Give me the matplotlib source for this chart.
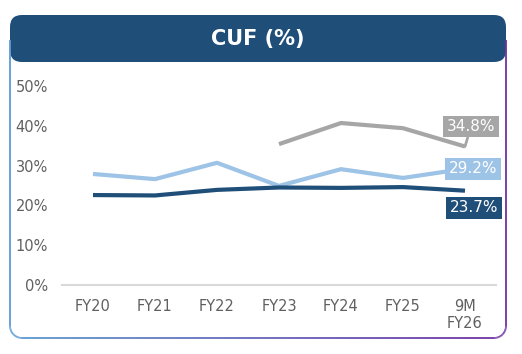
import numpy as np
import matplotlib
matplotlib.use("Agg")
import matplotlib.pyplot as plt
from matplotlib.patches import FancyBboxPatch
from matplotlib.collections import LineCollection
from matplotlib.colors import to_rgb

# ── data ──────────────────────────────────────────────
categories = ["FY20", "FY21", "FY22", "FY23", "FY24", "FY25", "9M\nFY26"]
cuf_dark = [22.6, 22.5, 23.9, 24.5, 24.4, 24.6, 23.7]
cuf_light = [27.9, 26.6, 30.7, 24.9, 29.1, 26.9, 29.2]
cuf_gray_cats = ["FY23", "FY24", "FY25", "9M\nFY26"]
cuf_gray = [35.4, 40.7, 39.4, 34.8]
y_ticks = [0, 10, 20, 30, 40, 50]

DARK = "#1F4E79"
LIGHT = "#9DC3E6"
GRAY = "#A6A6A6"
TXT = "#606060"
FONT = "DejaVu Sans"

W, H = 522, 354
fig = plt.figure(figsize=(W / 100, H / 100), dpi=100)
fig.patch.set_facecolor("white")

# ── frame: header band + gradient border (pixel coords) ──
bg = fig.add_axes([0, 0, 1, 1], zorder=0)
bg.set_xlim(0, W)
bg.set_ylim(H, 0)
bg.axis("off")

x0, x1, ytop, ybot, r = 10, 506, 40, 338, 12
pts = [(x0, ytop), (x0, ybot - r)]
for a in np.linspace(np.pi, np.pi / 2, 12):
    pts.append((x0 + r + r * np.cos(a), ybot - r + r * np.sin(a)))
for a in np.linspace(np.pi / 2, 0, 12):
    pts.append((x1 - r + r * np.cos(a), ybot - r + r * np.sin(a)))
pts.append((x1, ytop))
# densify so the colour gradient is smooth
dense = []
for (ax_, ay_), (bx_, by_) in zip(pts[:-1], pts[1:]):
    n = max(2, int(np.hypot(bx_ - ax_, by_ - ay_) / 3))
    for t in np.linspace(0, 1, n, endpoint=False):
        dense.append((ax_ + (bx_ - ax_) * t, ay_ + (by_ - ay_) * t))
dense.append(pts[-1])
dense = np.array(dense)
segs = np.stack([dense[:-1], dense[1:]], axis=1)
c_left, c_right = np.array(to_rgb("#5B9BD5")), np.array(to_rgb("#7030A0"))
tx = ((segs[:, 0, 0] + segs[:, 1, 0]) / 2 - x0) / (x1 - x0)
cols = [c_left + (c_right - c_left) * t for t in tx]
bg.add_collection(LineCollection(segs, colors=cols, linewidths=1.3))

header = FancyBboxPatch((10 + 12, 15 + 12), 496 - 24, 47 - 24,
                        boxstyle="round,pad=12", fc=DARK, ec="none")
bg.add_patch(header)
bg.text(258, 39, "CUF (%)", color="white", fontsize=15, fontweight="bold",
        ha="center", va="center", family=FONT)

# ── chart ─────────────────────────────────────────────
ax = fig.add_axes([62 / W, (H - 285) / H, (496 - 62) / W, (285 - 86) / H], zorder=1)
ax.patch.set_alpha(0)
x = np.arange(len(categories))
xg = [categories.index(c) for c in cuf_gray_cats]

ax.plot(x, cuf_light, color=LIGHT, lw=3, solid_capstyle="butt", zorder=3)
ax.plot(xg, cuf_gray, color=GRAY, lw=3, solid_capstyle="butt", zorder=3)
ax.plot(x, cuf_dark, color=DARK, lw=3, solid_capstyle="butt", zorder=4)

ax.set_xlim(-0.5, len(categories) - 0.5)
ax.set_ylim(0, 50)
ax.set_yticks(y_ticks)
ax.set_yticklabels([f"{v}%" for v in y_ticks])
ax.set_xticks(x)
ax.set_xticklabels(categories, linespacing=1.2)
ax.tick_params(length=0, labelsize=10.5, labelcolor=TXT)
ax.tick_params(axis="y", pad=10)
ax.tick_params(axis="x", pad=10)
for lab in ax.get_xticklabels() + ax.get_yticklabels():
    lab.set_family(FONT)
for s in ["top", "right", "left"]:
    ax.spines[s].set_visible(False)
ax.spines["bottom"].set_color("#D9D9D9")
ax.spines["bottom"].set_linewidth(1.5)

# end labels
def end_label(xv, yv, color, dx, dy, pointer=False):
    kw = {}
    if pointer:
        kw["arrowprops"] = dict(arrowstyle="-", color=color, lw=2, shrinkA=0, shrinkB=0)
    ax.annotate(f"{yv:.1f}%", (xv, yv), xytext=(dx, dy), textcoords="offset pixels",
                ha="center", va="center", color="white", fontsize=11, family=FONT,
                bbox=dict(boxstyle="square,pad=0.22", fc=color, ec="none"),
                zorder=5, annotation_clip=False, **kw)

last = len(categories) - 1
end_label(last, cuf_gray[-1], GRAY, 6, 20, pointer=True)
end_label(last, cuf_light[-1], LIGHT, 8, 0)
end_label(last, cuf_dark[-1], DARK, 9, -17)

fig.savefig("out.png", dpi=100)
